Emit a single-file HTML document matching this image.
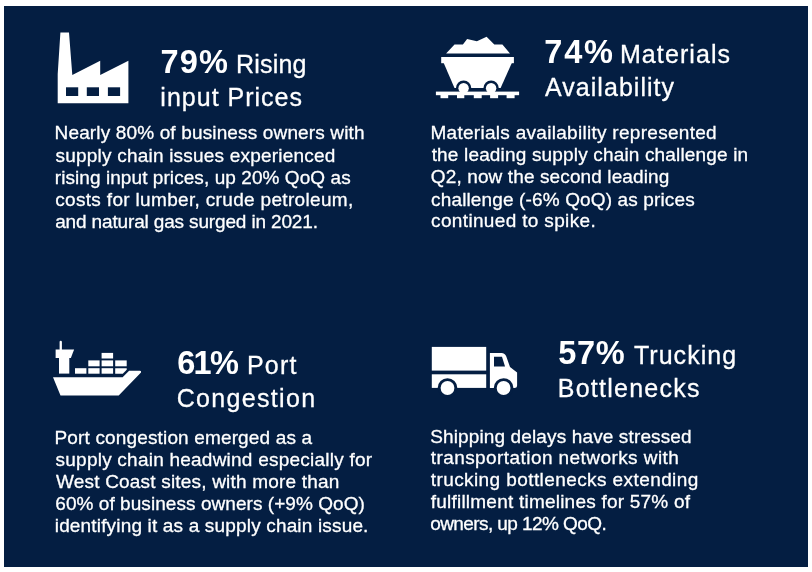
<!DOCTYPE html>
<html><head><meta charset="utf-8"><title>Supply chain challenges</title>
<style>
html,body{margin:0;padding:0;}
body{width:812px;height:572px;background:#fff;position:relative;overflow:hidden;font-family:"Liberation Sans",sans-serif;}
.panel{position:absolute;left:4px;top:6px;width:804px;height:560.5px;background:#041E42;}
.ic{position:absolute;left:0;top:0;}
.t{position:absolute;white-space:nowrap;color:#fff;line-height:1;margin:0;}
.b{font-weight:700;}
.txt{position:absolute;left:0;top:0;width:812px;height:572px;will-change:transform;filter:grayscale(1);}
.t{-webkit-text-stroke:0.3px #fff;}
.b{-webkit-text-stroke:0;}
</style></head><body>
<div class="panel"></div>

<svg class="ic" width="812" height="572" viewBox="0 0 812 572">
 <!-- factory -->
 <g fill="#fff">
  <path d="M60.4,32.4 L69,32.4 L72.3,75 L100.2,60.8 L100.2,75 L128.4,60.8 L128.4,103.3 L57.7,103.3 L57.7,74 Z"/>
 </g>
 <g fill="#041E42">
  <rect x="66" y="87.3" width="12.2" height="8.7"/>
  <rect x="86.8" y="87.3" width="12.2" height="8.7"/>
  <rect x="107.9" y="87.3" width="12.2" height="8.7"/>
 </g>
 <!-- mine cart -->
 <g fill="#fff">
  <path d="M446.1,53.6 L454.5,44.5 L462.9,44.5 L467.1,38.9 L476.9,41.3 L486.6,36.8 L494.3,44.5 L502.4,44.5 L510,53.6 Z"/>
  <rect x="441.2" y="57" width="72.7" height="6.2"/>
  <path d="M443.7,63 L511.8,63 L500.6,88.1 L454.5,88.1 Z"/>
 </g>
 <circle cx="463.6" cy="88.2" r="7.7" fill="#041E42"/>
 <circle cx="491.1" cy="88.2" r="7.7" fill="#041E42"/>
 <g fill="#fff">
  <circle cx="463.6" cy="88.2" r="5.2"/>
  <circle cx="491.1" cy="88.2" r="5.2"/>
  <rect x="435.9" y="91.6" width="83.2" height="3.6"/>
  <rect x="440.5" y="95" width="7.7" height="3.2"/>
  <rect x="457" y="95" width="7.3" height="3.2"/>
  <rect x="473.8" y="95" width="7.9" height="3.2"/>
  <rect x="490.1" y="95" width="8" height="3.2"/>
  <rect x="506.6" y="95" width="8" height="3.2"/>
 </g>
 <!-- ship -->
 <g fill="#fff">
  <path d="M53,377.3 L122.6,377.3 L129.1,370.8 L140,370.8 Q141.6,371 141,372.6 L118.7,395.6 L60.5,395.6 Z"/>
  <rect x="59.6" y="340.8" width="2.3" height="10" rx="1.1"/>
  <path d="M55.6,349.5 L74.1,349.5 L70.9,357.9 L55.6,357.9 Z"/>
  <rect x="59" y="357" width="10.3" height="16.6"/>
  <rect x="75" y="368.2" width="11.4" height="5.5"/>
  <rect x="88.3" y="368.2" width="11.3" height="5.5"/>
  <rect x="101.6" y="368.2" width="11.5" height="5.5"/>
  <path d="M115.2,368.2 L126.7,368.2 L126.7,369.8 L122.8,373.7 L115.2,373.7 Z"/>
  <rect x="88.3" y="360.4" width="11.3" height="5.9"/>
  <rect x="101.6" y="360.4" width="11.5" height="5.9"/>
  <rect x="115.2" y="360.4" width="11.5" height="5.9"/>
  <rect x="101.6" y="352.9" width="11.5" height="5.6"/>
 </g>
 <!-- truck -->
 <g fill="#fff">
  <rect x="431.8" y="346.9" width="54.4" height="23.7"/>
  <rect x="431.8" y="374.3" width="54.4" height="13.6"/>
  <path d="M489.9,353 L501.4,353 Q505,353 506.3,356.5 L510,366.9 L517.1,372.5 L517.1,385.4 Q517,387.9 514.3,387.9 L489.9,387.9 Z"/>
 </g>
 <path d="M494,356.7 L502,356.7 L505,366.6 L494,366.6 Z" fill="#041E42"/>
 <circle cx="447.5" cy="388" r="9.8" fill="#041E42"/>
 <circle cx="503.6" cy="388" r="9.8" fill="#041E42"/>
 <circle cx="447.5" cy="388" r="6.9" fill="#fff"/>
 <circle cx="503.6" cy="388" r="6.9" fill="#fff"/>
</svg>
<div class="txt">
<div class="t b" style="left:160.55px;top:45.50px;font-size:32.5px;letter-spacing:1.152px;">79%</div>
<div class="t" style="left:235.93px;top:51.51px;font-size:25px;letter-spacing:0.223px;">Rising</div>
<div class="t" style="left:160.36px;top:84.71px;font-size:25px;letter-spacing:1.003px;">input Prices</div>
<div class="t" style="left:54.55px;top:123.21px;font-size:19px;letter-spacing:0.147px;">Nearly 80% of business owners with</div>
<div class="t" style="left:55.57px;top:145.51px;font-size:19px;letter-spacing:0.206px;">supply chain issues experienced</div>
<div class="t" style="left:54.75px;top:167.71px;font-size:19px;letter-spacing:0.071px;">rising input prices, up 20% QoQ as</div>
<div class="t" style="left:55.19px;top:189.90px;font-size:19px;letter-spacing:0.328px;">costs for lumber, crude petroleum,</div>
<div class="t" style="left:55.19px;top:212.01px;font-size:19px;letter-spacing:-0.149px;">and natural gas surged in 2021.</div>
<div class="t b" style="left:544.25px;top:36.31px;font-size:32.5px;letter-spacing:1.801px;">74%</div>
<div class="t" style="left:619.93px;top:42.31px;font-size:25px;letter-spacing:1.097px;">Materials</div>
<div class="t" style="left:545.03px;top:75.21px;font-size:25px;letter-spacing:1.038px;">Availability</div>
<div class="t" style="left:430.41px;top:123.01px;font-size:19px;letter-spacing:0.289px;">Materials availability represented</div>
<div class="t" style="left:431.67px;top:145.10px;font-size:19px;letter-spacing:0.166px;">the leading supply chain challenge in</div>
<div class="t" style="left:430.86px;top:167.40px;font-size:19px;letter-spacing:0.115px;">Q2, now the second leading</div>
<div class="t" style="left:431.12px;top:189.60px;font-size:19px;letter-spacing:0.135px;">challenge (-6% QoQ) as prices</div>
<div class="t" style="left:431.12px;top:211.21px;font-size:19px;letter-spacing:0.340px;">continued to spike.</div>
<div class="t b" style="left:177.22px;top:346.81px;font-size:32.5px;letter-spacing:-1.684px;">61%</div>
<div class="t" style="left:246.93px;top:352.81px;font-size:25px;letter-spacing:1.208px;">Port</div>
<div class="t" style="left:176.74px;top:386.01px;font-size:25px;letter-spacing:1.316px;">Congestion</div>
<div class="t" style="left:54.55px;top:428.30px;font-size:19px;letter-spacing:0.149px;">Port congestion emerged as a</div>
<div class="t" style="left:55.57px;top:450.10px;font-size:19px;letter-spacing:0.230px;">supply chain headwind especially for</div>
<div class="t" style="left:56.06px;top:472.10px;font-size:19px;letter-spacing:0.187px;">West Coast sites, with more than</div>
<div class="t" style="left:55.28px;top:494.10px;font-size:19px;letter-spacing:0.057px;">60% of business owners (+9% QoQ)</div>
<div class="t" style="left:54.76px;top:515.80px;font-size:19px;letter-spacing:0.166px;">identifying it as a supply chain issue.</div>
<div class="t b" style="left:558.26px;top:337.31px;font-size:32.5px;letter-spacing:0.681px;">57%</div>
<div class="t" style="left:633.90px;top:343.31px;font-size:25px;letter-spacing:1.041px;">Trucking</div>
<div class="t" style="left:557.79px;top:376.10px;font-size:25px;letter-spacing:1.245px;">Bottlenecks</div>
<div class="t" style="left:430.18px;top:426.71px;font-size:19px;letter-spacing:0.133px;">Shipping delays have stressed</div>
<div class="t" style="left:430.75px;top:448.40px;font-size:19px;letter-spacing:0.426px;">transportation networks with</div>
<div class="t" style="left:430.75px;top:470.40px;font-size:19px;letter-spacing:0.412px;">trucking bottlenecks extending</div>
<div class="t" style="left:430.76px;top:492.40px;font-size:19px;letter-spacing:0.222px;">fulfillment timelines for 57% of</div>
<div class="t" style="left:430.21px;top:514.10px;font-size:19px;letter-spacing:-0.581px;">owners, up 12% QoQ.</div>
</div>
</body></html>
